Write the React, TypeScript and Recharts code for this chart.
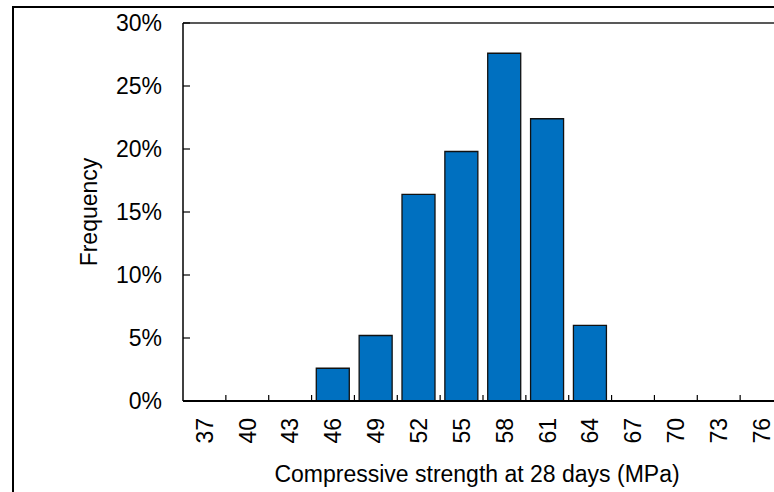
import { Bar, BarChart, ReferenceLine, XAxis, YAxis } from 'recharts'

const strengths = ['37', '40', '43', '46', '49', '52', '55', '58', '61', '64', '67', '70', '73', '76']
const frequency = [0, 0, 0, 2.6, 5.2, 16.4, 19.8, 27.6, 22.4, 6.0, 0, 0, 0, 0]
const yTicks = [0, 5, 10, 15, 20, 25, 30]

const data = strengths.map((s, i) => ({ strength: s, frequency: frequency[i] }))

const FONT = 'Arial, "Liberation Sans", sans-serif'
const FONT_SIZE = 23

interface TickProps {
  x?: number
  y?: number
  payload?: { value: string; offset?: number }
}

// Excel puts category ticks between the bins, pointing up into the plot
function StrengthTick({ x = 0, y = 0, payload }: TickProps) {
  const edge = x + (payload?.offset ?? 0)
  const ty = y + 17
  return (
    <g>
      <line x1={edge} x2={edge} y1={y} y2={y - 6} stroke="#000" strokeWidth={1.2} />
      <text
        x={x}
        y={ty}
        dy="0.36em"
        textAnchor="end"
        transform={`rotate(-90, ${x}, ${ty})`}
        fill="#000"
        fontSize={FONT_SIZE}
        fontFamily={FONT}
      >
        {payload?.value}
      </text>
    </g>
  )
}

export default function App() {
  return (
    <div style={{ position: 'fixed', left: 0, top: 0, width: 774, height: 492, overflow: 'hidden', background: '#fff' }}>
      <div style={{ position: 'absolute', left: 12, top: 6, border: '2px solid #000', width: 800, height: 500 }}>
        <BarChart
          width={800}
          height={500}
          data={data}
          margin={{ top: 15, right: 31, bottom: 0, left: 0 }}
          barCategoryGap="11%"
        >
          <XAxis
            dataKey="strength"
            height={107}
            interval={0}
            tickSize={0}
            tickMargin={0}
            tick={<StrengthTick />}
            axisLine={{ stroke: '#000', strokeWidth: 2 }}
            label={{
              value: 'Compressive strength at 28 days (MPa)',
              position: 'insideBottom',
              offset: 26,
              dx: -6,
              fill: '#000',
              fontSize: FONT_SIZE,
              fontFamily: FONT,
            }}
          />
          <YAxis
            width={169}
            domain={[0, 30]}
            ticks={yTicks}
            interval={0}
            tickSize={-7}
            tickMargin={28}
            tickFormatter={(v: number) => `${v}%`}
            tick={{ fill: '#000', fontSize: FONT_SIZE, fontFamily: FONT }}
            tickLine={{ stroke: '#000', strokeWidth: 1.2 }}
            axisLine={{ stroke: '#000', strokeWidth: 1.5 }}
            label={{
              value: 'Frequency',
              angle: -90,
              position: 'insideLeft',
              offset: 71,
              dx: 4,
              style: { textAnchor: 'middle' },
              fill: '#000',
              fontSize: FONT_SIZE,
              fontFamily: FONT,
            }}
          />
          <ReferenceLine y={30} stroke="#222" strokeWidth={1.5} />
          <Bar dataKey="frequency" fill="#0070C0" stroke="#111" strokeWidth={1.3} isAnimationActive={false} />
        </BarChart>
      </div>
    </div>
  )
}
